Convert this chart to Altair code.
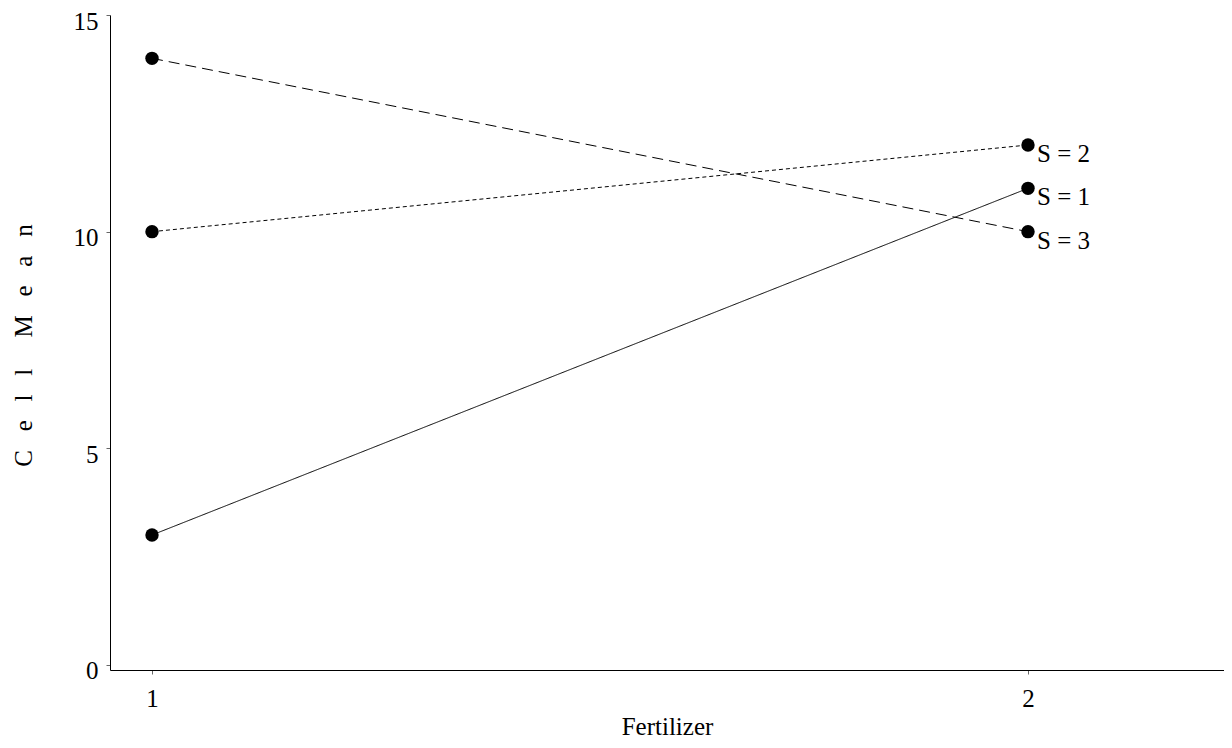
import altair as alt
import pandas as pd

fertilizer = [1, 2, 1, 2, 1, 2]
cell_mean = [3, 11, 10, 12, 14, 10]
series = ["S = 1", "S = 1", "S = 2", "S = 2", "S = 3", "S = 3"]

df = pd.DataFrame({"Fertilizer": fertilizer, "Mean": cell_mean, "S": series})
labels = df[df["Fertilizer"] == 2]

FONT = "Liberation Serif"
FS = 25
NB = "\u00a0"
ytitle = (NB * 3).join("Cell") + NB * 5 + (NB * 3).join("Mean")

xs = alt.Scale(domain=[0.95205, 2.22374], nice=False, zero=False)
ys = alt.Scale(domain=[-0.1154, 15], nice=False, zero=False)

x_enc = alt.X("Fertilizer:Q", scale=xs, axis=alt.Axis(
    values=[1, 2], format="d", title="Fertilizer", grid=False,
    domainColor="#000000", domainWidth=1, tickColor="#666666", tickSize=4,
    labelFont=FONT, labelFontSize=FS, labelColor="#000", labelPadding=12,
    titleFont=FONT, titleFontSize=FS, titleFontWeight="normal", titleColor="#000",
    titleBaseline="alphabetic", titleY=64))
y_enc = alt.Y("Mean:Q", scale=ys, axis=alt.Axis(
    values=[0, 5, 10, 15], title=ytitle, grid=False,
    domainColor="#000000", domainWidth=1, tickColor="#666666", tickSize=4,
    labelFont=FONT, labelFontSize=FS, labelColor="#000", labelPadding=8,
    labelBaseline="alphabetic", labelOffset=14,
    titleFont=FONT, titleFontSize=FS, titleFontWeight="normal", titleColor="#000",
    titleBaseline="middle", titleX=-87, titleY=330, titleAngle=270))

lines = alt.Chart(df).mark_line(color="black", strokeWidth=1).encode(
    x=x_enc, y=y_enc,
    strokeDash=alt.StrokeDash("S:N", scale=alt.Scale(
        domain=["S = 1", "S = 2", "S = 3"],
        range=[[1, 0], [4, 3], [11, 6]]), legend=None),
    detail="S:N",
)
pts = alt.Chart(df).mark_circle(color="black", opacity=1, size=180).encode(
    x=alt.X("Fertilizer:Q", scale=xs), y=alt.Y("Mean:Q", scale=ys))
txt = alt.Chart(labels).mark_text(align="left", baseline="alphabetic", dx=9, dy=17,
                                  font=FONT, fontSize=FS, color="black").encode(
    x=alt.X("Fertilizer:Q", scale=xs), y=alt.Y("Mean:Q", scale=ys), text="S:N")

chart = (lines + pts + txt).properties(
    width=1114, height=655,
    background="white",
    autosize=alt.AutoSizeParams(type="none"),
    padding={"left": 102, "top": 7, "right": 0, "bottom": 70},
).configure_view(strokeWidth=0, stroke="transparent").configure_axis(grid=False)

chart.save("out.html", embed_options={"renderer": "svg", "actions": False})
